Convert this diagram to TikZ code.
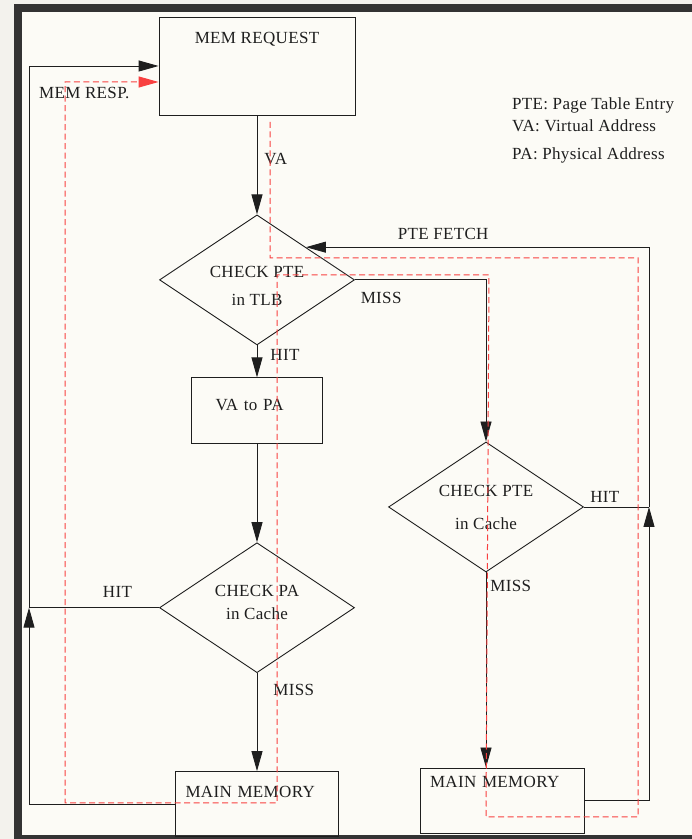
\documentclass[tikz,border=0pt]{standalone}
\usepackage{fontspec}
\setmainfont[LetterSpace=2]{Liberation Serif}
\usepackage{tikz}
\usetikzlibrary{positioning,arrows.meta,shapes.geometric,calc}
\definecolor{pagebg}{RGB}{243,242,237}
\definecolor{framedark}{RGB}{51,51,51}
\definecolor{paperfill}{RGB}{252,251,246}
\definecolor{inkgray}{RGB}{30,30,30}
\definecolor{tracered}{RGB}{248,64,64}
\newcommand{\diagfont}{\fontsize{17}{20}\selectfont}
\tikzset{
  box/.style   ={rectangle, draw=inkgray, line width=0.9pt, inner sep=3pt,
                 text=inkgray, font=\diagfont},
  decide/.style={diamond, aspect=1.5, draw=inkgray, line width=0.9pt, inner sep=0pt,
                 minimum width=195pt, minimum height=130pt, align=center,
                 text=inkgray, font=\diagfont},
  lbl/.style   ={font=\diagfont, text=inkgray, inner sep=0pt},
  wire/.style  ={line width=0.9pt, draw=inkgray},
  flow/.style  ={-{Triangle[length=20pt,width=11pt]}, line width=0.9pt, draw=inkgray},
  trace/.style ={-{Triangle[length=20pt,width=11pt]}, line width=1pt, draw=tracered,
                 dash pattern=on 6pt off 3.5pt},
}
\begin{document}
\begin{tikzpicture}[x=1pt, y=1pt]
\useasboundingbox (0,0) rectangle (692,839);
\fill[pagebg] (0,0) rectangle (692,839);
\fill[framedark] (14,0) rectangle (692,835);
\fill[paperfill] (22,4) rectangle (692,827);

\node[box, minimum width=196pt, minimum height=98pt, text height=12pt, text depth=56pt]
  (req) at (257,773) {MEM REQUEST};
\node[decide, below=99pt of req] (tlb) {\rule{0pt}{24pt}CHECK PTE\\[8pt]in TLB};
\node[box, below=32pt of tlb, minimum width=131pt, minimum height=66pt,
      text width=83pt, align=left, text height=12pt, text depth=12pt] (va2pa) {VA to PA};
\node[decide, below=98pt of va2pa] (pacache) {CHECK PA\\[3pt]in Cache\rule[-10pt]{0pt}{0pt}};
\node[box, below=98pt of pacache, minimum width=163pt, minimum height=65pt,
      text width=143pt, align=left, text height=12pt, text depth=25pt] (mem1) {MAIN MEMORY};
\node[decide] (ptecache) at (486,332) {CHECK PTE\\[13pt]in Cache};
\node[box, minimum width=164pt, minimum height=65pt,
      text width=144pt, align=left, text height=12pt, text depth=37pt] (mem2) at (502,38.5) {MAIN MEMORY};

\node[lbl, anchor=base west] (resp) at (39,740) {MEM RESP.};
\node[lbl, anchor=base west] (leg1) at (512,729) {PTE: Page Table Entry};
\node[lbl, anchor=base west] (leg2) at (512,707) {VA: Virtual Address};
\node[lbl, anchor=base west] (leg3) at (512,679) {PA: Physical Address};

\coordinate (jl) at (29,0 |- pacache.west);
\coordinate (jr) at (649,0 |- ptecache.east);

% main column
\draw[flow] (req) -- node[lbl, right, pos=0.44, xshift=7pt] {VA} (tlb);
\draw[flow] (tlb) -- node[lbl, right, pos=0.31, xshift=13pt] {HIT} (va2pa);
\draw[flow] (va2pa) -- (pacache);
\draw[flow] (pacache) -- node[lbl, right, pos=0.17, xshift=16pt] {MISS} (mem1);
\draw[wire] (pacache.west) -- node[lbl, above, pos=0.32, yshift=10pt] {HIT} (jl);
\draw[flow] (mem1.west) -| (jl);
\draw[flow] (jl) |- (req.west);

% page table walk
\draw[flow] (tlb.east) -| node[lbl, below, pos=0.1, yshift=-11.5pt] {MISS} (ptecache.north);
\draw[wire] (ptecache.east) -- node[lbl, above, pos=0.32, yshift=4pt] {HIT} (jr);
\draw[flow] (mem2.east) -| (jr);
\draw[flow] (jr) |- node[lbl, above, pos=0.8, yshift=7.5pt] {PTE FETCH} (tlb.north east);
\draw[flow] (ptecache.south) -- node[lbl, right, pos=0.07, xshift=4pt] {MISS} (ptecache.south |- mem2.north);

% red trace
\draw[trace] (270,717) -- (270,581) -- (638,581) -- (638,22) -- (486,22) -- (489,564)
  -- (277,564) -- (277,36) -- (65,36) -- (65,757) -- (req.west |- 65,757);
\end{tikzpicture}
\end{document}
